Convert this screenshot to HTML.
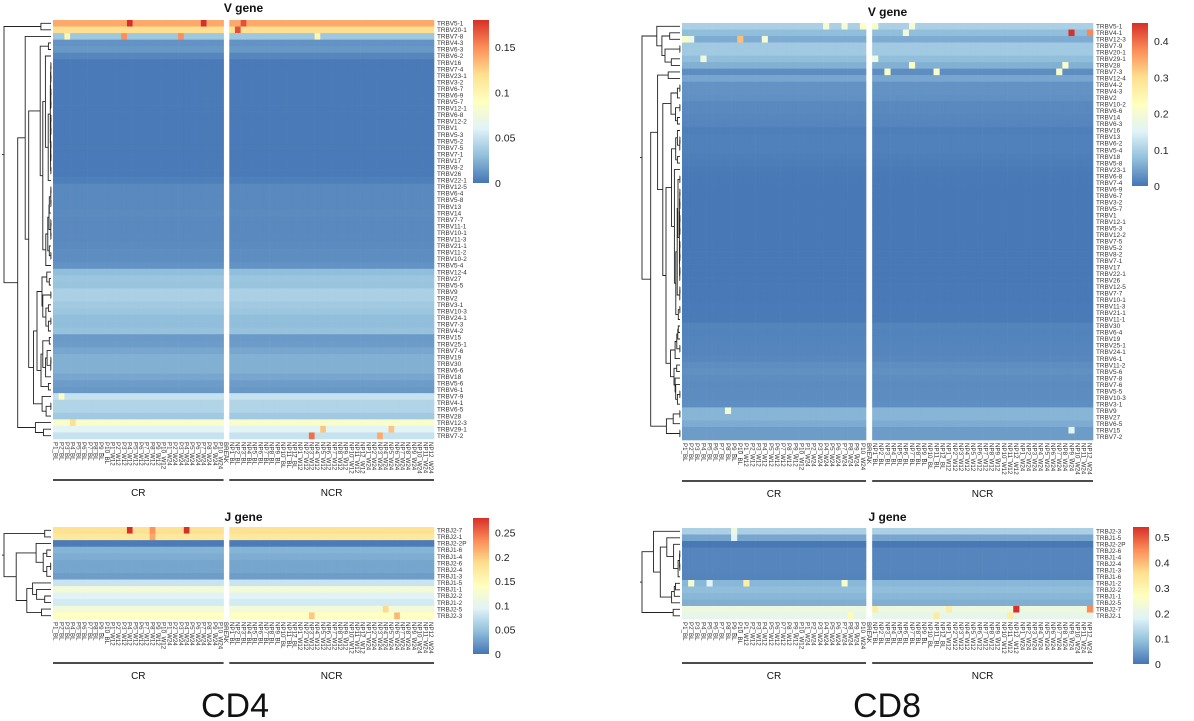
<!DOCTYPE html>
<html><head><meta charset="utf-8">
<style>
html,body{margin:0;padding:0;background:#fff;}
svg{display:block;font-family:"Liberation Sans",Arial,sans-serif;}
</style></head>
<body>
<svg id="fig" width="1194" height="721" viewBox="0 0 1194 721" xmlns="http://www.w3.org/2000/svg">
<defs>
<linearGradient id="rdylbu" x1="0" y1="1" x2="0" y2="0">
<stop offset="0" stop-color="#4575B4"/><stop offset="0.1667" stop-color="#91BFDB"/><stop offset="0.3333" stop-color="#E0F3F8"/><stop offset="0.5" stop-color="#FFFFBF"/><stop offset="0.6667" stop-color="#FEE090"/><stop offset="0.8333" stop-color="#FC8D59"/><stop offset="1" stop-color="#D73027"/>
</linearGradient>
</defs>
<text x="235" y="721" font-size="34" text-anchor="middle" fill="#111" dy="-4">CD4</text>
<text x="887" y="721" font-size="34" text-anchor="middle" fill="#111" dy="-4">CD8</text>
</svg>
<script>
// ---- column categories ----
const crCols = [];
["BL","W12","W24"].forEach(t=>{for(let i=1;i<=10;i++)crCols.push("P"+i+"_"+t);});
const ncrCols = [];
["BL","W12","W24"].forEach(t=>{for(let i=1;i<=12;i++)ncrCols.push("NP"+i+"_"+t);});
const allCols = crCols.concat(["BREAK"]).concat(ncrCols);

// ---- CD4 V gene ----
const cd4VRows = ["TRBV5-1","TRBV20-1","TRBV7-8","TRBV4-3","TRBV6-3","TRBV6-2","TRBV16","TRBV7-4","TRBV23-1","TRBV3-2","TRBV6-7","TRBV6-9","TRBV5-7","TRBV12-1","TRBV6-8","TRBV12-2","TRBV1","TRBV5-3","TRBV5-2","TRBV7-5","TRBV7-1","TRBV17","TRBV8-2","TRBV26","TRBV22-1","TRBV12-5","TRBV6-4","TRBV5-8","TRBV13","TRBV14","TRBV7-7","TRBV11-1","TRBV10-1","TRBV11-3","TRBV21-1","TRBV11-2","TRBV10-2","TRBV5-4","TRBV12-4","TRBV27","TRBV5-5","TRBV9","TRBV2","TRBV3-1","TRBV10-3","TRBV24-1","TRBV7-3","TRBV4-2","TRBV15","TRBV25-1","TRBV7-6","TRBV19","TRBV30","TRBV6-6","TRBV18","TRBV5-6","TRBV6-1","TRBV7-9","TRBV4-1","TRBV6-5","TRBV28","TRBV12-3","TRBV29-1","TRBV7-2"];
const cd4VMeans = [0.14,0.12,0.035,0.012,0.014,0.007,0.002,0.002,0.002,0.002,0.002,0.002,0.002,0.002,0.002,0.002,0.002,0.002,0.002,0.002,0.002,0.002,0.002,0.002,0.004,0.008,0.008,0.008,0.008,0.009,0.008,0.008,0.008,0.008,0.009,0.01,0.01,0.012,0.03,0.034,0.033,0.04,0.04,0.036,0.034,0.03,0.03,0.032,0.015,0.016,0.02,0.024,0.024,0.024,0.02,0.016,0.014,0.05,0.042,0.042,0.036,0.085,0.062,0.05];
const cd4VOutliers = [["TRBV5-1","P4_W12",0.18],["TRBV5-1","P7_W24",0.18],["TRBV5-1","NP3_BL",0.17],["TRBV20-1","NP2_BL",0.17],["TRBV7-8","P3_BL",0.1],["TRBV7-8","P3_W12",0.15],["TRBV7-8","P3_W24",0.15],["TRBV7-8","NP4_W12",0.1],["TRBV7-2","NP3_W12",0.16],["TRBV7-2","NP3_W24",0.14],["TRBV29-1","NP5_W12",0.13],["TRBV29-1","NP5_W24",0.13],["TRBV12-3","P4_BL",0.12],["TRBV7-9","P2_BL",0.09]];

// ---- CD4 J gene ----
const cd4JRows = ["TRBJ2-7","TRBJ2-1","TRBJ2-2P","TRBJ1-6","TRBJ1-4","TRBJ2-6","TRBJ2-4","TRBJ1-3","TRBJ1-5","TRBJ1-1","TRBJ2-2","TRBJ1-2","TRBJ2-5","TRBJ2-3"];
const cd4JMeans = [0.185,0.175,0.004,0.04,0.035,0.03,0.03,0.025,0.08,0.12,0.095,0.085,0.12,0.14];
const cd4JOutliers = [["TRBJ2-7","P4_W12",0.28],["TRBJ2-7","P4_W24",0.28],["TRBJ2-7","P8_W12",0.23],["TRBJ2-1","P8_W12",0.22],["TRBJ2-3","NP6_W24",0.21],["TRBJ2-3","NP3_W12",0.2],["TRBJ2-5","NP4_W24",0.19]];

// ---- CD8 V gene ----
const cd8VRows = ["TRBV5-1","TRBV4-1","TRBV12-3","TRBV7-9","TRBV20-1","TRBV29-1","TRBV28","TRBV7-3","TRBV12-4","TRBV4-2","TRBV4-3","TRBV2","TRBV10-2","TRBV6-6","TRBV14","TRBV6-3","TRBV16","TRBV13","TRBV6-2","TRBV5-4","TRBV18","TRBV5-8","TRBV23-1","TRBV6-8","TRBV7-4","TRBV6-9","TRBV6-7","TRBV3-2","TRBV5-7","TRBV1","TRBV12-1","TRBV5-3","TRBV12-2","TRBV7-5","TRBV5-2","TRBV8-2","TRBV7-1","TRBV17","TRBV22-1","TRBV26","TRBV12-5","TRBV7-7","TRBV10-1","TRBV11-3","TRBV21-1","TRBV11-1","TRBV30","TRBV6-4","TRBV19","TRBV25-1","TRBV24-1","TRBV6-1","TRBV11-2","TRBV5-6","TRBV7-8","TRBV7-6","TRBV5-5","TRBV10-3","TRBV3-1","TRBV9","TRBV27","TRBV6-5","TRBV15","TRBV7-2"];
const cd8VMeans = [0.1,0.075,0.055,0.09,0.09,0.075,0.06,0.025,0.05,0.03,0.03,0.028,0.02,0.02,0.018,0.016,0.01,0.012,0.012,0.012,0.01,0.008,0.006,0.004,0.004,0.003,0.003,0.003,0.003,0.003,0.003,0.003,0.003,0.003,0.003,0.003,0.003,0.003,0.003,0.003,0.004,0.004,0.004,0.005,0.005,0.006,0.015,0.014,0.015,0.016,0.016,0.018,0.025,0.028,0.025,0.022,0.024,0.024,0.026,0.065,0.065,0.055,0.04,0.04];
const cd8VOutliers = [["TRBV5-1","P4_W24",0.2],["TRBV5-1","P7_W24",0.2],["TRBV5-1","P10_W24",0.22],["TRBV5-1","NP1_BL",0.21],["TRBV5-1","NP7_BL",0.2],["TRBV4-1","NP9_W24",0.45],["TRBV4-1","NP12_W24",0.38],["TRBV4-1","NP6_BL",0.19],["TRBV12-3","P1_BL",0.21],["TRBV12-3","P10_BL",0.33],["TRBV12-3","P4_W12",0.2],["TRBV12-3","P2_BL",0.18],["TRBV7-3","NP3_BL",0.22],["TRBV7-3","NP11_BL",0.22],["TRBV7-3","NP7_W24",0.21],["TRBV28","NP7_BL",0.22],["TRBV28","NP8_W24",0.21],["TRBV29-1","P4_BL",0.19],["TRBV29-1","NP1_BL",0.18],["TRBV9","P8_BL",0.2],["TRBV15","NP9_W24",0.16]];

// ---- CD8 J gene ----
const cd8JRows = ["TRBJ2-3","TRBJ1-5","TRBJ2-2P","TRBJ2-6","TRBJ1-4","TRBJ2-4","TRBJ1-3","TRBJ1-6","TRBJ1-2","TRBJ2-2","TRBJ1-1","TRBJ2-5","TRBJ2-7","TRBJ2-1"];
const cd8JMeans = [0.12,0.06,0.004,0.02,0.02,0.02,0.02,0.018,0.08,0.09,0.08,0.07,0.22,0.2];
const cd8JOutliers = [["TRBJ2-3","P9_BL",0.22],["TRBJ1-5","P9_BL",0.18],["TRBJ1-2","P2_BL",0.25],["TRBJ1-2","P5_BL",0.18],["TRBJ1-2","P1_W12",0.32],["TRBJ1-2","P7_W24",0.25],["TRBJ2-7","NP12_W12",0.54],["TRBJ2-7","NP12_W24",0.45],["TRBJ2-7","NP1_BL",0.32],["TRBJ2-7","NP1_W12",0.32],["TRBJ2-1","NP11_BL",0.33],["TRBJ2-1","NP11_W12",0.32],["TRBJ2-1","P8_W24",0.28]];

// ---- colour scale ----
const stops = ["#4575B4","#91BFDB","#E0F3F8","#FFFFBF","#FEE090","#FC8D59","#D73027"].map(h=>[parseInt(h.slice(1,3),16),parseInt(h.slice(3,5),16),parseInt(h.slice(5,7),16)]);
function colorOf(t){t=Math.max(0,Math.min(1,t));const p=t*6,i=Math.min(5,Math.floor(p)),f=p-i;const a=stops[i],b=stops[i+1];return "rgb("+a.map((v,k)=>Math.round(v+(b[k]-v)*f)).join(",")+")";}

const NS="http://www.w3.org/2000/svg";
const svg=document.getElementById("fig");
function mk(tag,attrs,parent){const e=document.createElementNS(NS,tag);for(const k in attrs)e.setAttribute(k,attrs[k]);(parent||svg).appendChild(e);return e;}

function drawPanel(c){
  const g=mk("g",{});
  
  
  const nR=c.rows.length, nC=allCols.length;
  const cw=(c.x1-c.x0)/nC, rh=(c.y1-c.y0)/nR;
  const xS=j=>c.x0+j*cw, yS=i=>c.y0+i*rh;
  const vS=v=>v/c.max;
  const out={};c.outliers.forEach(o=>{out[o[0]+"|"+o[1]]=o[2];});
  // title
  const t=mk("text",{x:(c.x0+c.x1)/2,y:c.titleY,"font-size":12,"font-weight":"bold","text-anchor":"middle",fill:"#111"},g);
  t.textContent=c.title;
  
  
  // cells
  for(let i=0;i<nR;i++){
    for(let j=0;j<nC;j++){
      if(allCols[j]==="BREAK")continue;
      const key=c.rows[i]+"|"+allCols[j];
      const v=(key in out)?out[key]:c.means[i];
      const r=mk("rect",{x:xS(j).toFixed(2),y:yS(i).toFixed(2),width:(cw+0.3).toFixed(2),height:(rh+0.3).toFixed(2),fill:colorOf(vS(v))},g);
      
      
    }
    const lb=mk("text",{x:c.x1+3,y:yS(i)+rh/2+2.2,"font-size":6.4,fill:"#333"},g);
    lb.textContent=c.rows[i];
    
    
  }
  // column labels
  for(let j=0;j<nC;j++){
    const cx=xS(j)+cw/2-2.2, cy=c.y1+3;
    const tx=mk("text",{x:0,y:0,"font-size":6.2,fill:"#333",transform:"translate("+cx.toFixed(2)+","+cy+") rotate(90)"},g);
    tx.textContent=allCols[j];
    
    
  }
  // group bars
  const bi=crCols.length;
  const l1=mk("line",{x1:c.x0,x2:xS(bi),y1:c.lineY,y2:c.lineY,stroke:"#111","stroke-width":1.5},g);
  
  
  const l2=mk("line",{x1:xS(bi+1),x2:c.x1,y1:c.lineY,y2:c.lineY,stroke:"#111","stroke-width":1.5},g);
  
  
  const t1=mk("text",{x:(c.x0+xS(bi))/2,y:c.lineY+16,"font-size":10,"text-anchor":"middle",fill:"#111"},g);
  t1.textContent="CR";
  
  
  const t2=mk("text",{x:(xS(bi+1)+c.x1)/2,y:c.lineY+16,"font-size":10,"text-anchor":"middle",fill:"#111"},g);
  t2.textContent="NCR";
  
  
  // colorbar
  const cb=mk("rect",{x:c.cbX,y:c.cbY0,width:16,height:c.cbY1-c.cbY0,fill:"url(#rdylbu)"},g);
  
  
  c.ticks.forEach(tv=>{
    const yy=c.cbY1-(tv/c.max)*(c.cbY1-c.cbY0);
    const tt=mk("text",{x:c.cbX+22,y:yy+4,"font-size":10.5,fill:"#222"},g);
    tt.textContent=String(tv);
    
    
  });
  // dendrogram: order-preserving adjacent average-linkage on row means
  let cl=c.means.map((m,i)=>({m:m,n:1,y:yS(i)+rh/2,h:0}));
  const merges=[];
  while(cl.length>1){
    let best=0,bd=1e9;
    for(let k=0;k<cl.length-1;k++){const d=Math.abs(cl[k].m-cl[k+1].m)+0.0004*(cl[k].n+cl[k+1].n)/nR;if(d<bd){bd=d;best=k;}}
    const a=cl[best],b=cl[best+1];
    const h=Math.max(a.h,b.h)+bd;
    merges.push({a:a,b:b,h:h});
    cl.splice(best,2,{m:(a.m*a.n+b.m*b.n)/(a.n+b.n),n:a.n+b.n,y:(a.y+b.y)/2,h:h});
  }
  const hmax=cl[0].h||1, leafX=c.x0-2, rootX=c.dendX;
  const hx=h=>leafX-Math.pow(h/hmax,0.6)*(leafX-rootX);
  const dg=mk("g",{stroke:"#222","stroke-width":0.9,fill:"none"},g);
  
  
  merges.forEach(mg=>{
    const x=hx(mg.h);
    mk("path",{d:"M"+hx(mg.a.h).toFixed(1)+","+mg.a.y.toFixed(1)+"H"+x.toFixed(1)+"V"+mg.b.y.toFixed(1)+"H"+hx(mg.b.h).toFixed(1)},dg);
  });
  const root=cl[0];
  mk("path",{d:"M"+hx(root.h).toFixed(1)+","+root.y.toFixed(1)+"H"+(rootX-2)},dg);
}

drawPanel({id:"cd4-v",title:"V gene",rows:cd4VRows,means:cd4VMeans,outliers:cd4VOutliers,max:0.18,x0:53,x1:434,y0:20,y1:439,titleY:12,lineY:480,cbX:473,cbY0:20,cbY1:183,ticks:[0,0.05,0.1,0.15],dendX:4});
drawPanel({id:"cd4-j",title:"J gene",rows:cd4JRows,means:cd4JMeans,outliers:cd4JOutliers,max:0.28,x0:53,x1:434,y0:527,y1:619,titleY:521,lineY:663,cbX:473,cbY0:518,cbY1:654,ticks:[0,0.05,0.1,0.15,0.2,0.25],dendX:4});
drawPanel({id:"cd8-v",title:"V gene",rows:cd8VRows,means:cd8VMeans,outliers:cd8VOutliers,max:0.45,x0:682,x1:1093,y0:23,y1:440,titleY:16,lineY:481,cbX:1132,cbY0:23,cbY1:186,ticks:[0,0.1,0.2,0.3,0.4],dendX:642});
drawPanel({id:"cd8-j",title:"J gene",rows:cd8JRows,means:cd8JMeans,outliers:cd8JOutliers,max:0.54,x0:682,x1:1093,y0:528,y1:619,titleY:521,lineY:663,cbX:1133,cbY0:527,cbY1:664,ticks:[0,0.1,0.2,0.3,0.4,0.5],dendX:642});
</script>
</body></html>
